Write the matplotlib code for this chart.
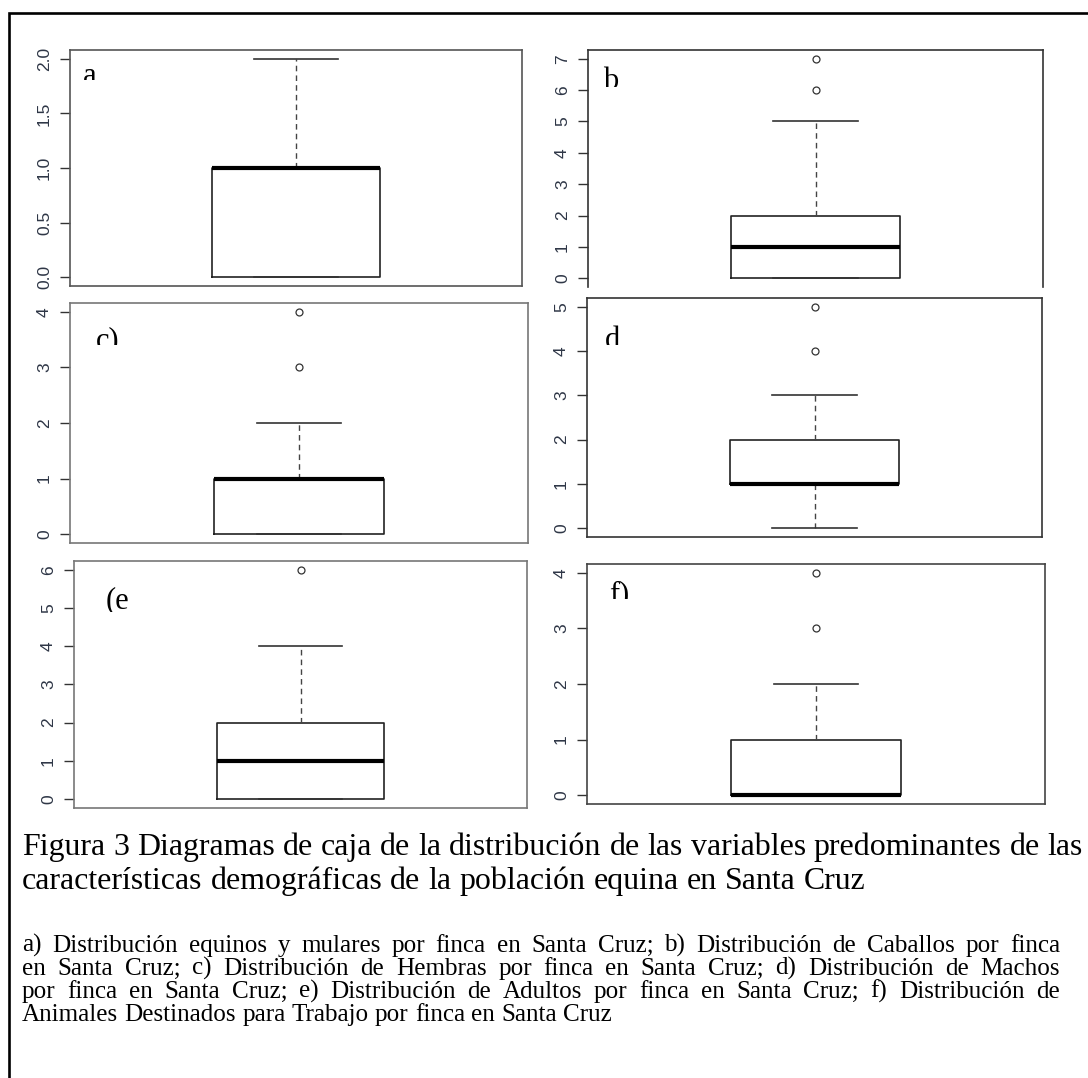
import matplotlib
matplotlib.use('Agg')
import matplotlib.pyplot as plt
from matplotlib.lines import Line2D
from matplotlib.transforms import Bbox, TransformedBbox

W, H = 1088, 1078
fig = plt.figure(figsize=(W / 100, H / 100), dpi=100)
fig.patch.set_facecolor('white')


def fx(x):
    return x / W


def fy(y):
    return 1 - y / H


# ---------------- data ----------------
panel_labels = ['a', 'b', 'c)', 'd', '(e', 'f)']
q1 = [0, 0, 0, 1, 0, 0]
med = [1, 1, 1, 1, 1, 0]
q3 = [1, 2, 1, 2, 2, 1]
whislo = [0, 0, 0, 0, 0, 0]
whishi = [2, 5, 2, 3, 4, 2]
fliers = [[], [6, 7], [3, 4], [4, 5], [6], [3, 4]]
yticks = [[0, 0.5, 1.0, 1.5, 2.0],
          [0, 1, 2, 3, 4, 5, 6, 7],
          [0, 1, 2, 3, 4],
          [0, 1, 2, 3, 4, 5],
          [0, 1, 2, 3, 4, 5, 6],
          [0, 1, 2, 3, 4]]
ytick_labels = [['0.0', '0.5', '1.0', '1.5', '2.0'],
                ['0', '1', '2', '3', '4', '5', '6', '7'],
                ['0', '1', '2', '3', '4'],
                ['0', '1', '2', '3', '4', '5'],
                ['0', '1', '2', '3', '4', '5', '6'],
                ['0', '1', '2', '3', '4']]

caption_lines = [
    "Figura 3 Diagramas de caja de la distribución de las variables predominantes de las",
    "características demográficas de la población equina en Santa Cruz",
]
note_lines = [
    "a) Distribución equinos y mulares por finca en Santa Cruz; b) Distribución de Caballos por finca",
    "en Santa Cruz; c) Distribución de Hembras por finca en Santa Cruz; d) Distribución de Machos",
    "por finca en Santa Cruz; e) Distribución de Adultos por finca en Santa Cruz; f) Distribución de",
    "Animales Destinados para Trabajo por finca en Santa Cruz",
]

# ---------------- layout (pixels) ----------------
rects = [(70, 50, 522, 286), (588, 50, 1043, 287),
         (70, 303, 528, 543), (587, 298, 1042, 537),
         (74, 561, 527, 808), (587, 564, 1045, 804)]
label_pos = [(83, 84, 80), (603, 89, 87), (96, 348, 345),
             (605, 348, 345), (106, 608, 612), (609, 602, 599)]
spine_cols = ['#555555', '#333333', '#777777', '#333333', '#777777', '#444444']

tick_col = '#2e3646'
serif = ['Liberation Serif', 'DejaVu Serif']
sans = ['Liberation Sans', 'DejaVu Sans']

for i in range(6):
    x0, y0, x1, y1 = rects[i]
    ax = fig.add_axes([fx(x0), fy(y1), (x1 - x0) / W, (y1 - y0) / H])
    stats = [dict(med=med[i], q1=q1[i], q3=q3[i], whislo=whislo[i],
                  whishi=whishi[i], fliers=fliers[i])]
    ax.bxp(stats, positions=[1], widths=0.4, showfliers=True,
           boxprops=dict(color='#222222', linewidth=1.2),
           medianprops=dict(color='black', linewidth=3.0, solid_capstyle='butt'),
           whiskerprops=dict(color='#444444', linewidth=1.0, linestyle=(0, (4, 3))),
           capprops=dict(color='#333333', linewidth=1.2),
           flierprops=dict(marker='o', markerfacecolor='none',
                           markeredgecolor='#333333', markersize=5,
                           markeredgewidth=0.9))
    vals = [whislo[i], whishi[i], q1[i], q3[i]] + list(fliers[i])
    lo, hi = min(vals), max(vals)
    ext = 0.04 * (hi - lo)
    ax.set_ylim(lo - ext, hi + ext)
    ax.set_xlim(0.46, 1.54)
    ax.set_xticks([])
    ax.set_yticks(yticks[i])
    ax.set_yticklabels(ytick_labels[i], rotation=90, va='center',
                       family=sans, fontsize=12.5, color=tick_col)
    ax.tick_params(axis='y', length=7, width=1.0, color='#333333', pad=6)
    for s in ax.spines.values():
        s.set_color(spine_cols[i])
        s.set_linewidth(1.2)
    if i == 1:
        ax.spines['bottom'].set_visible(False)

    lx, lb, lc = label_pos[i]
    t = fig.text(fx(lx), fy(lb), panel_labels[i], fontsize=22, family=serif,
                 ha='left', va='baseline', color='black')
    clip = TransformedBbox(Bbox.from_extents(0, fy(lc), 1, 1), fig.transFigure)
    t.set_clip_box(clip)
    t.set_clip_on(True)

# ---------------- outer frame ----------------
fig.add_artist(Line2D([fx(8.5), fx(8.5), fx(1088)], [fy(1078), fy(13), fy(13)],
                      transform=fig.transFigure, color='black', linewidth=1.9,
                      solid_joinstyle='miter'))

# ---------------- caption text ----------------
renderer = fig.canvas.get_renderer()


def text_width(s, size):
    t = fig.text(0, 0, s, fontsize=size, family=serif)
    w = t.get_window_extent(renderer).width
    t.remove()
    return w


def fit_size(s, target):
    return 20 * target / text_width(s, 20)


def place_line(line, x0, x1, yb, size, justify):
    words = line.split(' ')
    texts = [fig.text(0, fy(yb), w, fontsize=size, family=serif,
                      ha='left', va='baseline', color='black') for w in words]
    widths = [t.get_window_extent(renderer).width for t in texts]
    if justify and len(words) > 1:
        gap = (x1 - x0 - sum(widths)) / (len(words) - 1)
    else:
        gap = text_width('x x', size) - text_width('xx', size)
    x = x0
    for t, w in zip(texts, widths):
        t.set_x(fx(x))
        x += w + gap


cap_size = fit_size(caption_lines[1], 844)
note_size = 0.93 * fit_size(note_lines[3], 635)

cap_base = [855, 889]
place_line(caption_lines[0], 22, 1083, cap_base[0], cap_size, True)
place_line(caption_lines[1], 22, 1083, cap_base[1], cap_size, False)

note_base = [952, 975, 998, 1021]
for k, line in enumerate(note_lines):
    place_line(line, 22, 1060, note_base[k], note_size, k < 3)

fig.savefig('out.png', dpi=100, facecolor='white')
